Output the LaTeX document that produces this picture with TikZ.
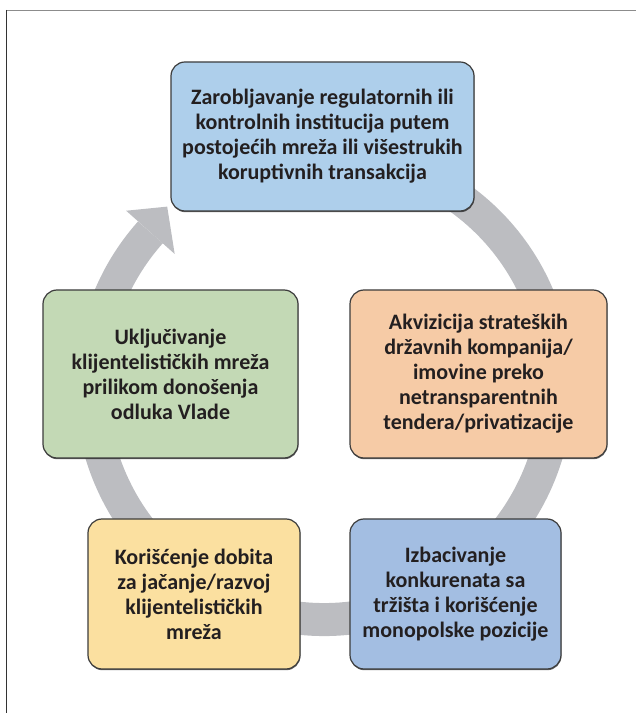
\documentclass[tikz,border=0pt]{standalone}
\usepackage{fontspec}
\setmainfont{Carlito}
\usetikzlibrary{shadows}

\definecolor{ringgray}{HTML}{BCBDC1}
\definecolor{framegray}{HTML}{8C8C8C}
\definecolor{framedark}{HTML}{333333}
\definecolor{boxline}{HTML}{3C3C3C}
\definecolor{textdark}{HTML}{231F20}
\definecolor{capblue}{HTML}{AECFEB}
\definecolor{acqorange}{HTML}{F6CBA6}
\definecolor{incgreen}{HTML}{C3D9B5}
\definecolor{useyellow}{HTML}{FBE0A0}
\definecolor{monoblue}{HTML}{A3BEE2}

\tikzset{
	stage/.style={draw=boxline, line width=1.2pt, rounded corners=14pt, align=center,
		inner sep=0pt, text=textdark, font=\bfseries\fontsize{22}{25}\selectfont,
		drop shadow={shadow xshift=0.4pt, shadow yshift=-1.2pt, opacity=.6, fill=black}},
}

\begin{document}
\begin{tikzpicture}[x=1pt, y=1pt]
	\useasboundingbox (0,0) rectangle (636,713);
	\draw[framegray, line width=1.5pt] (6,702.5) -- (636,702.5);
	\draw[framedark, line width=1.3pt] (6.5,703) -- (6.5,0);

	% ring behind the boxes
	\coordinate (hub) at (324,326);
	\draw[ringgray, line width=33pt, shift={(hub)}] (110:232.5) arc[start angle=110, end angle=-221.7, radius=232.5];
	\fill[ringgray, shift={(hub)}] (138.3:200) -- (138.3:265) -- (131:239) -- cycle;

	\node[stage, fill=capblue, minimum width=303pt, minimum height=149pt] (capture) at (322.5,576.5)
		{Zarobljavanje regulatornih ili\\kontrolnih institucija putem\\postojećih mreža ili višestrukih\\koruptivnih transakcija};
	\node[stage, fill=acqorange, minimum width=257pt, minimum height=168pt] (acquire) at (478.5,339)
		{Akvizicija strateških\\državnih kompanija/\\imovine preko\\netransparentnih\\tendera/privatizacije};
	\node[stage, fill=incgreen, minimum width=255pt, minimum height=168pt] (include) at (170.5,339)
		{Uključivanje\\klijentelističkih mreža\\prilikom donošenja\\odluka Vlade};
	\node[stage, fill=useyellow, minimum width=212pt, minimum height=150pt] (profit) at (194,119)
		{Korišćenje dobita\\za jačanje/razvoj\\klijentelističkih\\mreža};
	\node[stage, fill=monoblue, minimum width=211pt, minimum height=150pt] (monopoly) at (455.5,119)
		{Izbacivanje\\konkurenata sa\\tržišta i korišćenje\\monopolske pozicije};
\end{tikzpicture}
\end{document}
